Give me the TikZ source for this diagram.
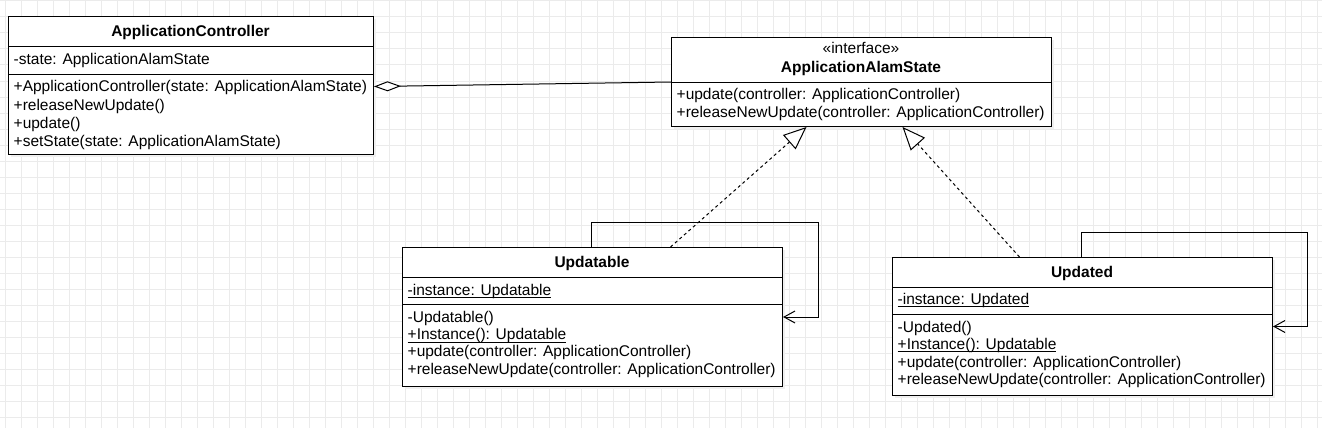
\documentclass[tikz,border=0pt]{standalone}
\usepackage{fontspec}
\setmainfont{Liberation Sans}
\usetikzlibrary{arrows.meta,calc}
\newcommand\umlul[1]{\setbox0\hbox{#1}\rlap{\rule[-3.3pt]{\wd0}{1pt}}\box0}
\begin{document}
\begin{tikzpicture}[x=1pt,y=-1pt,
  gridline/.style={draw=black!8,line width=1pt},
  shadowbox/.style={fill=black!6,draw=none},
  umlbox/.style={draw=black,fill=white,line width=1pt,inner sep=0,anchor=north west},
  sepline/.style={draw=black,line width=1pt},
  txt/.style={inner sep=0,anchor=base west,font=\fontsize{15.5}{17}\selectfont},
  ttl/.style={inner sep=0,anchor=base,font=\fontsize{15.5}{17}\selectfont\bfseries},
  stereo/.style={inner sep=0,anchor=base,font=\fontsize{15.5}{17}\selectfont},
  realize/.style={draw=black,line width=1pt,dash pattern=on 3pt off 3pt,
    -{Triangle[open,fill=white,length=23pt,width=19pt]}},
  aggr/.style={draw=black,line width=1pt,{Diamond[open,fill=white,length=27pt,width=10pt]}-},
  selfassoc/.style={draw=black,line width=1pt,-{Straight Barb[length=11pt,width=12pt]}}
]
\useasboundingbox (0,0) rectangle (1322,428);
\fill[white] (0,0) rectangle (1322,428);
% grid
\foreach \gx in {5,21,...,1317} \draw[gridline] (\gx,0) -- (\gx,428);
\foreach \gy in {1,17,...,417} \draw[gridline] (0,\gy) -- (1322,\gy);

% shadows
\fill[shadowbox] (11,19) rectangle (376,157);
\fill[shadowbox] (674,40) rectangle (1054,129);
\fill[shadowbox] (405,250) rectangle (785,389);
\fill[shadowbox] (895,260) rectangle (1275,398);

% ApplicationController
\node[umlbox,minimum width=365pt,minimum height=138pt] (ac) at (8,16) {};
\draw[sepline] (ac.west |- 0,47) -- (ac.east |- 0,47);
\draw[sepline] (ac.west |- 0,74) -- (ac.east |- 0,74);
\node[ttl] (acT) at (190.5,37) {ApplicationController};
\node[txt] (acA1) at (13.5,64.5) {-state: ApplicationAlamState};
\node[txt] (acM1) at (13.5,92) {+ApplicationController(state: ApplicationAlamState)};
\node[txt] (acM2) at (13.5,110) {+releaseNewUpdate()};
\node[txt] (acM3) at (13.5,128) {+update()};
\node[txt] (acM4) at (13.5,146) {+setState(state: ApplicationAlamState)};

% ApplicationAlamState
\node[umlbox,minimum width=380pt,minimum height=89pt] (iface) at (671,37) {};
\draw[sepline] (iface.west |- 0,82) -- (iface.east |- 0,82);
\node[stereo] (ifS) at (861,53) {«interface»};
\node[ttl] (ifT) at (861,72) {ApplicationAlamState};
\node[txt] (ifM1) at (676.5,99.5) {+update(controller: ApplicationController)};
\node[txt] (ifM2) at (676.5,117) {+releaseNewUpdate(controller: ApplicationController)};

% Updatable
\node[umlbox,minimum width=380pt,minimum height=139pt] (upa) at (402,247) {};
\draw[sepline] (upa.west |- 0,277) -- (upa.east |- 0,277);
\draw[sepline] (upa.west |- 0,304) -- (upa.east |- 0,304);
\node[ttl] (upaT) at (592,267.5) {Updatable};
\node[txt] (upaA1) at (407.5,295) {\umlul{-instance: Updatable}};
\node[txt] (upaM1) at (407.5,322.5) {-Updatable()};
\node[txt] (upaM2) at (407.5,339.5) {\umlul{+Instance(): Updatable}};
\node[txt] (upaM3) at (407.5,356.5) {+update(controller: ApplicationController)};
\node[txt] (upaM4) at (407.5,374) {+releaseNewUpdate(controller: ApplicationController)};

% Updated
\node[umlbox,minimum width=380pt,minimum height=138pt] (upd) at (892,257) {};
\draw[sepline] (upd.west |- 0,287) -- (upd.east |- 0,287);
\draw[sepline] (upd.west |- 0,314) -- (upd.east |- 0,314);
\node[ttl] (updT) at (1082,277) {Updated};
\node[txt] (updA1) at (897.5,304) {\umlul{-instance: Updated}};
\node[txt] (updM1) at (897.5,332) {-Updated()};
\node[txt] (updM2) at (897.5,349) {\umlul{+Instance(): Updatable}};
\node[txt] (updM3) at (897.5,367) {+update(controller: ApplicationController)};
\node[txt] (updM4) at (897.5,384.5) {+releaseNewUpdate(controller: ApplicationController)};

% connectors
\draw[aggr] ([yshift=-1]ac.east) -- (iface.west);
\draw[realize] ([xshift=78]upa.north) -- ([xshift=-55]iface.south);
\draw[realize] ([xshift=-63]upd.north) -- ([xshift=41]iface.south);
\draw[selfassoc] ([xshift=-1]upa.north) -- ++(0,-25) -| ([xshift=35]upa.east) -- (upa.east);
\draw[selfassoc] ([xshift=-1]upd.north) -- ++(0,-25) -| ([xshift=34]upd.east) -- (upd.east);
\end{tikzpicture}
\end{document}
